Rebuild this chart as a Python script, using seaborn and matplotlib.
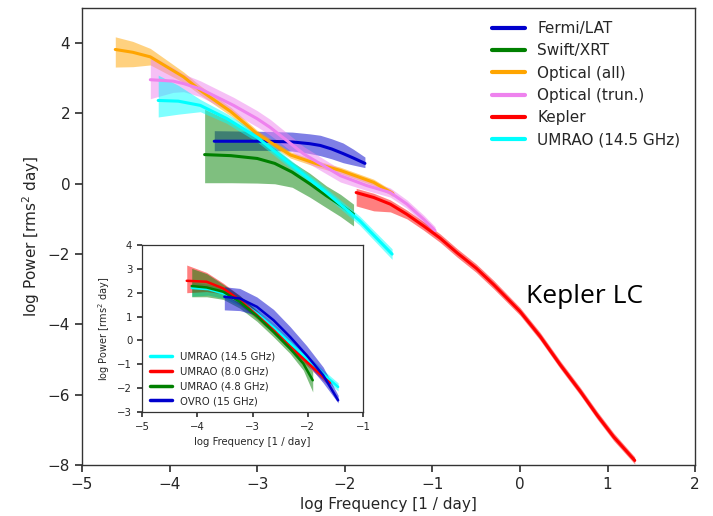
import matplotlib
matplotlib.use("Agg")
import matplotlib.pyplot as plt
import seaborn as sns
import pandas as pd

# ---------------- main panel data ----------------
FERMI_X = [-3.49, -3.2, -2.9, -2.6, -2.4, -2.28, -2.15, -2.02, -1.9, -1.77]
FERMI_Y = [1.21, 1.21, 1.21, 1.19, 1.14, 1.09, 0.99, 0.86, 0.73, 0.58]
FERMI_LO = [0.94, 0.95, 0.95, 0.93, 0.86, 0.80, 0.71, 0.60, 0.53, 0.46]
FERMI_HI = [1.51, 1.50, 1.49, 1.47, 1.42, 1.38, 1.28, 1.16, 0.98, 0.76]

SWIFT_X = [-3.6, -3.3, -3.0, -2.8, -2.6, -2.4, -2.21, -2.05, -1.9]
SWIFT_Y = [0.83, 0.80, 0.72, 0.58, 0.33, 0.0, -0.34, -0.60, -0.87]
SWIFT_LO = [0.03, 0.03, 0.02, 0.0, -0.10, -0.38, -0.68, -0.93, -1.20]
SWIFT_HI = [2.12, 1.78, 1.32, 1.00, 0.62, 0.30, -0.06, -0.30, -0.58]

OPTALL_X = [-4.62, -4.42, -4.22, -3.84, -3.65, -3.3, -3.0, -2.62, -2.3, -2.05, -1.67, -1.45]
OPTALL_Y = [3.82, 3.74, 3.61, 3.04, 2.66, 2.05, 1.42, 0.82, 0.55, 0.38, 0.04, -0.28]
OPTALL_LO = [3.32, 3.33, 3.38, 2.88, 2.53, 1.93, 1.32, 0.73, 0.46, 0.29, -0.05, -0.36]
OPTALL_HI = [4.18, 4.05, 3.85, 3.18, 2.79, 2.17, 1.52, 0.91, 0.64, 0.47, 0.13, -0.20]

OPTTRUN_X = [-4.22, -3.96, -3.84, -3.65, -3.27, -3.0, -2.85, -2.47, -2.05, -1.75, -1.48, -1.29, -1.10, -0.97]
OPTTRUN_Y = [2.96, 2.92, 2.85, 2.70, 2.23, 1.85, 1.60, 0.85, 0.23, -0.05, -0.25, -0.58, -1.01, -1.33]
OPTTRUN_LO = [2.42, 2.60, 2.62, 2.48, 2.00, 1.62, 1.38, 0.66, 0.05, -0.19, -0.38, -0.70, -1.13, -1.44]
OPTTRUN_HI = [3.66, 3.30, 3.12, 2.93, 2.46, 2.08, 1.83, 1.06, 0.41, 0.09, -0.12, -0.46, -0.89, -1.22]

KEPLER_X = [-1.87, -1.67, -1.48, -1.29, -1.10, -0.91, -0.72, -0.5, -0.3, 0.0, 0.23, 0.46, 0.69, 0.88, 1.07, 1.31]
KEPLER_Y = [-0.25, -0.39, -0.58, -0.87, -1.20, -1.55, -1.96, -2.40, -2.87, -3.63, -4.34, -5.15, -5.91, -6.58, -7.20, -7.87]
KEPLER_LO = [-0.63, -0.77, -0.80, -1.00, -1.32, -1.67, -2.08, -2.52, -2.99, -3.74, -4.45, -5.26, -6.02, -6.69, -7.31, -7.97]
KEPLER_HI = [-0.13, -0.27, -0.46, -0.75, -1.08, -1.43, -1.84, -2.28, -2.75, -3.52, -4.23, -5.04, -5.80, -6.47, -7.09, -7.77]

UMRAO_X = [-4.13, -3.9, -3.65, -3.35, -3.0, -2.62, -2.21, -1.83, -1.46]
UMRAO_Y = [2.37, 2.35, 2.23, 1.86, 1.32, 0.56, -0.25, -1.05, -2.00]
UMRAO_LO = [1.90, 1.98, 2.05, 1.72, 1.19, 0.44, -0.37, -1.18, -2.15]
UMRAO_HI = [3.09, 2.80, 2.40, 2.00, 1.45, 0.68, -0.13, -0.92, -1.85]

MAIN_LABELS = ["Fermi/LAT", "Swift/XRT", "Optical (all)", "Optical (trun.)", "Kepler", "UMRAO (14.5 GHz)"]
MAIN_COLORS = ["mediumblue", "green", "orange", "violet", "red", "cyan"]

# ---------------- inset data ----------------
IN_C14_X = [-4.1, -3.8, -3.5, -3.2, -2.9, -2.6, -2.3, -2.0, -1.7, -1.45]
IN_C14_Y = [2.20, 2.15, 1.95, 1.60, 1.10, 0.50, -0.15, -0.80, -1.45, -1.95]
IN_C14_LO = [1.85, 1.90, 1.75, 1.42, 0.93, 0.33, -0.32, -0.97, -1.62, -2.12]
IN_C14_HI = [2.45, 2.35, 2.15, 1.80, 1.28, 0.68, 0.03, -0.62, -1.28, -1.78]

IN_R8_X = [-4.19, -3.83, -3.53, -3.23, -2.92, -2.62, -2.32, -2.02, -1.72, -1.6]
IN_R8_Y = [2.50, 2.46, 2.18, 1.69, 1.06, 0.43, -0.27, -0.90, -1.53, -1.78]
IN_R8_LO = [2.00, 2.05, 1.95, 1.50, 0.90, 0.28, -0.42, -1.05, -1.68, -1.93]
IN_R8_HI = [3.16, 2.85, 2.40, 1.88, 1.22, 0.58, -0.12, -0.75, -1.38, -1.63]

IN_G48_X = [-4.1, -3.83, -3.53, -3.23, -2.92, -2.62, -2.32, -2.08, -1.91]
IN_G48_Y = [2.28, 2.22, 2.04, 1.62, 1.02, 0.36, -0.34, -0.97, -1.67]
IN_G48_LO = [1.83, 1.83, 1.72, 1.35, 0.80, 0.15, -0.55, -1.25, -2.16]
IN_G48_HI = [3.02, 2.80, 2.35, 1.88, 1.25, 0.58, -0.12, -0.72, -1.30]

IN_B15_X = [-3.51, -3.23, -2.92, -2.62, -2.32, -2.02, -1.72, -1.45]
IN_B15_Y = [1.83, 1.76, 1.41, 0.85, 0.15, -0.62, -1.46, -2.51]
IN_B15_LO = [1.28, 1.25, 1.05, 0.55, -0.15, -0.95, -1.78, -2.62]
IN_B15_HI = [2.25, 2.18, 1.82, 1.30, 0.58, -0.22, -1.12, -2.30]

INSET_LABELS = ["UMRAO (14.5 GHz)", "UMRAO (8.0 GHz)", "UMRAO (4.8 GHz)", "OVRO (15 GHz)"]
INSET_COLORS = ["cyan", "red", "green", "mediumblue"]

MAIN_XTICKS = [-5, -4, -3, -2, -1, 0, 1, 2]
MAIN_YTICKS = [-8, -6, -4, -2, 0, 2, 4]
INSET_XTICKS = [-5, -4, -3, -2, -1]
INSET_YTICKS = [-3, -2, -1, 0, 1, 2, 3, 4]

sns.set_theme(style="ticks")
plt.rcParams["font.family"] = ["DejaVu Sans"]

fig = plt.figure(figsize=(7.13, 5.16), dpi=100)
ax = fig.add_axes([0.115, 0.0988, 0.86, 0.8857])

main_series = [
    (FERMI_X, FERMI_Y, FERMI_LO, FERMI_HI),
    (SWIFT_X, SWIFT_Y, SWIFT_LO, SWIFT_HI),
    (OPTALL_X, OPTALL_Y, OPTALL_LO, OPTALL_HI),
    (OPTTRUN_X, OPTTRUN_Y, OPTTRUN_LO, OPTTRUN_HI),
    (KEPLER_X, KEPLER_Y, KEPLER_LO, KEPLER_HI),
    (UMRAO_X, UMRAO_Y, UMRAO_LO, UMRAO_HI),
]
for (xs, ys, lo, hi), lab, col in zip(main_series, MAIN_LABELS, MAIN_COLORS):
    ax.fill_between(xs, lo, hi, color=col, alpha=0.5, lw=0)
    df = pd.DataFrame({"x": xs, "y": ys})
    sns.lineplot(data=df, x="x", y="y", ax=ax, color=col, lw=2.2, label=lab,
                 sort=False, estimator=None)

ax.set_xlim(-5, 2)
ax.set_ylim(-8, 5)
ax.set_xticks(MAIN_XTICKS)
ax.set_yticks(MAIN_YTICKS)
ax.tick_params(labelsize=11, direction="out", length=5, color="#333333")
for s in ax.spines.values():
    s.set_color("#333333")
    s.set_linewidth(1.0)
ax.set_xlabel("log Frequency [1 / day]", fontsize=11)
ax.set_ylabel("log Power [rms$^2$ day]", fontsize=11)

leg = ax.legend(loc="upper left", bbox_to_anchor=(492 / 713, 1 - 21 / 516),
                bbox_transform=fig.transFigure, frameon=False, fontsize=11,
                handlelength=2.15, handletextpad=0.8, labelspacing=0.48,
                borderpad=0, borderaxespad=0)
for h in leg.get_lines():
    h.set_linewidth(3)

ax.text(0.07, -3.39, "Kepler LC", fontsize=19, family=["Open Sans", "DejaVu Sans"],
        ha="left", va="baseline", color="black")

# ---------------- inset ----------------
ins = fig.add_axes([142 / 713, 1 - 412 / 516, (363 - 142) / 713, (412 - 245) / 516])
inset_series = [
    (IN_C14_X, IN_C14_Y, IN_C14_LO, IN_C14_HI),
    (IN_R8_X, IN_R8_Y, IN_R8_LO, IN_R8_HI),
    (IN_G48_X, IN_G48_Y, IN_G48_LO, IN_G48_HI),
    (IN_B15_X, IN_B15_Y, IN_B15_LO, IN_B15_HI),
]
for (xs, ys, lo, hi), lab, col in zip(inset_series, INSET_LABELS, INSET_COLORS):
    ins.fill_between(xs, lo, hi, color=col, alpha=0.5, lw=0)
    df = pd.DataFrame({"x": xs, "y": ys})
    sns.lineplot(data=df, x="x", y="y", ax=ins, color=col, lw=1.8, label=lab,
                 sort=False, estimator=None)
ins.set_xlim(-5, -1)
ins.set_ylim(-3, 4)
ins.set_xticks(INSET_XTICKS)
ins.set_yticks(INSET_YTICKS)
ins.tick_params(labelsize=7.3, length=3.5, color="#333333")
for s in ins.spines.values():
    s.set_color("#333333")
    s.set_linewidth(0.9)
ins.set_xlabel("log Frequency [1 / day]", fontsize=7.3)
ins.set_ylabel("log Power [rms$^2$ day]", fontsize=7.0)
ileg = ins.legend(loc="lower left", bbox_to_anchor=(150 / 713, 1 - 406 / 516),
                  bbox_transform=fig.transFigure, frameon=False, fontsize=7.3,
                  handlelength=2.2, handletextpad=0.8, labelspacing=0.48,
                  borderpad=0, borderaxespad=0)
for h in ileg.get_lines():
    h.set_linewidth(2.5)

fig.savefig("out.png", dpi=100)
